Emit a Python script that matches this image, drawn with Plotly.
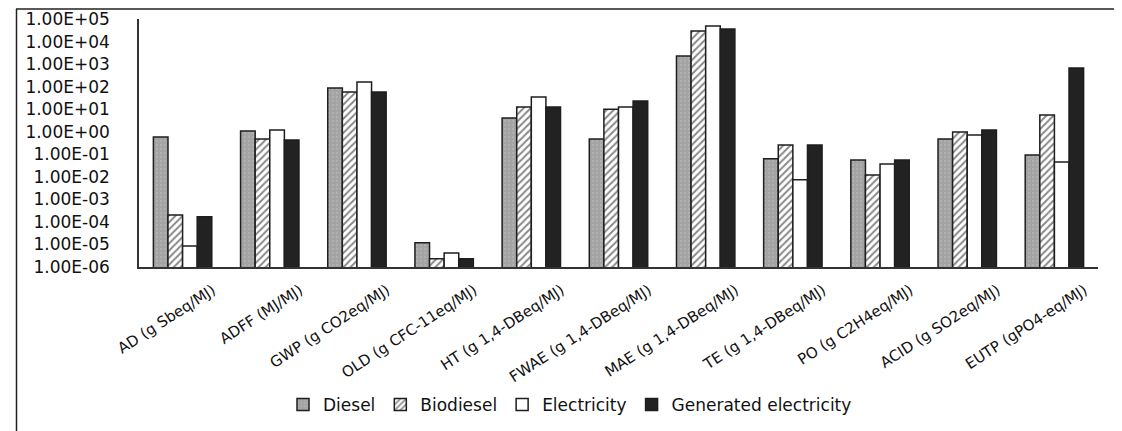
import plotly.graph_objects as go

categories = ["AD (g Sbeq/MJ)", "ADFF (MJ/MJ)", "GWP (g CO2eq/MJ)", "OLD (g CFC-11eq/MJ)",
              "HT (g 1,4-DBeq/MJ)", "FWAE (g 1,4-DBeq/MJ)", "MAE (g 1,4-DBeq/MJ)",
              "TE (g 1,4-DBeq/MJ)", "PO (g C2H4eq/MJ)", "ACID (g SO2eq/MJ)", "EUTP (gPO4-eq/MJ)"]
diesel = [0.59, 1.07, 87, 1.2e-5, 4.1, 0.48, 2300, 0.063, 0.056, 0.48, 0.093]
biodiesel = [2.0e-4, 0.48, 58, 2.3e-6, 12.6, 10, 29500, 0.26, 0.012, 0.98, 5.5]
electricity = [8.5e-6, 1.2, 162, 4.2e-6, 35, 12.6, 49000, 0.0074, 0.037, 0.72, 0.046]
generated = [1.7e-4, 0.43, 58, 2.3e-6, 12.6, 23, 36000, 0.26, 0.056, 1.2, 670]
tick_vals = [1e-6, 1e-5, 1e-4, 1e-3, 1e-2, 1e-1, 1, 10, 100, 1e3, 1e4, 1e5]
tick_text = ["1.00E-06", "1.00E-05", "1.00E-04", "1.00E-03", "1.00E-02", "1.00E-01",
             "1.00E+00", "1.00E+01", "1.00E+02", "1.00E+03", "1.00E+04", "1.00E+05"]

FONT = "DejaVu Sans"
line = dict(color="#1e1e1e", width=1.5)

fig = go.Figure()
fig.add_bar(name="Diesel", x=categories, y=diesel,
            marker=dict(color="#a6a6a6", line=line,
                        pattern=dict(shape=".", fgcolor="#bdbdbd", bgcolor="#a3a3a3", size=4, solidity=0.25)))
fig.add_bar(name="Biodiesel", x=categories, y=biodiesel,
            marker=dict(color="white", line=line,
                        pattern=dict(shape="/", fgcolor="#111111", bgcolor="white", size=5, solidity=0.4)))
fig.add_bar(name="Electricity", x=categories, y=electricity,
            marker=dict(color="white", line=line))
fig.add_bar(name="Generated electricity", x=categories, y=generated,
            marker=dict(color="#222222", line=line))

OFFX, OFFY = 0, 8
L, R, T, B = 131 - OFFX, 1090 - OFFX, 19 - OFFY, 267 - OFFY
W, H = 1122, 431
def px(x):
    return (x - OFFX - L) / (R - L)
def py(y):
    return (B - (y - OFFY)) / (B - T)

fig.update_layout(
    width=W, height=H,
    margin=dict(l=L, r=W - R, t=T, b=H - B, autoexpand=False),
    paper_bgcolor="white", plot_bgcolor="white",
    barmode="group", bargap=0.33, bargroupgap=0,
    font=dict(family=FONT, size=16, color="#111111"),
    showlegend=True,
    legend=dict(orientation="h", x=px(562), xanchor="center", y=py(405), yanchor="middle",
                bgcolor="rgba(0,0,0,0)",
                font=dict(family=FONT, size=17), itemwidth=30, traceorder="normal"),
    xaxis=dict(showline=True, linecolor="#333333", linewidth=1.5, showgrid=False,
               ticks="", tickangle=-33, tickfont=dict(family=FONT, size=15),
               ticklabelshift=30, ticklabelstandoff=7, automargin=False),
    yaxis=dict(type="log", range=[-6, 5], showline=True, linecolor="#333333", linewidth=1.5,
               showgrid=False, ticks="", tickvals=tick_vals, ticktext=tick_text,
               tickfont=dict(family=FONT, size=17), ticklabelstandoff=24, automargin=False),
    shapes=[
        dict(type="line", xref="paper", yref="paper", x0=px(8), x1=px(1140), y0=py(9), y1=py(9),
             line=dict(color="#222222", width=1.5)),
        dict(type="line", xref="paper", yref="paper", x0=px(8.5), x1=px(8.5), y0=py(9), y1=py(450),
             line=dict(color="#222222", width=1.5)),
    ],
)

fig.write_html("out.html")
